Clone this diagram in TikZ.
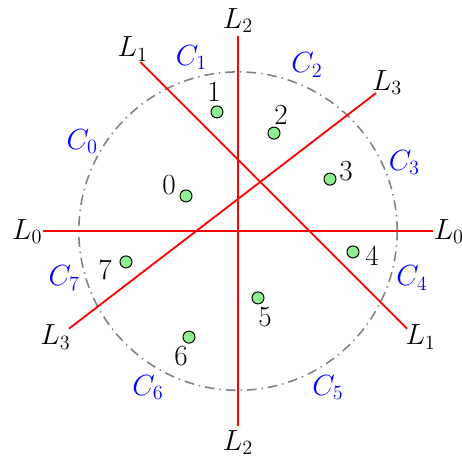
\documentclass[tikz,border=0pt]{standalone}
\usepackage{amsmath, amssymb}
\usepackage{tikz}
\usetikzlibrary{calc, positioning}
\definecolor{ptgreen}{RGB}{144,238,144}
\tikzset{>=latex}
\tikzset{
  cut/.style={draw=red, line width=1.3pt},
  ring/.style={draw=gray, line width=1.1pt,
    dash pattern=on 7pt off 3.5pt on 1pt off 3.5pt},
  pt/.style={circle, draw=black, fill=ptgreen, line width=0.7pt,
    minimum size=0.3cm, inner sep=0pt},
  cname/.style={blue},
}

\begin{document}
\begin{tikzpicture}[font=\huge]
          \useasboundingbox (-5.95,-5.6625) rectangle (5.6,5.7875);
          \coordinate (o) at (0,0.01);
          \draw[ring] (o) circle (3.98);
          % lines with both ends on the outer circle
          \foreach \n/\a/\z in {0/180/0, 1/120/330, 2/90/270, 3/210/45}{
            \coordinate (l\n a) at ($(o)+(\a:4.88)$);
            \coordinate (l\n b) at ($(o)+(\z:4.88)$);
            \draw[cut] (l\n a) -- (l\n b);
            \node (L\n a) at (\a:5.27) {$L_\n$};
            \node (L\n b) at (\z:5.27) {$L_\n$};
          }
          % cells
          \foreach \n/\a in {0/150, 1/105, 2/67.5, 3/22.5, 4/-15, 5/-60, 6/240, 7/195}
            \node[cname] (c\n) at (\a:4.5) {$C_\n$};
          % points and their numbers
          \foreach \i/\x/\y/\u/\v in {0/-1.3/0.89/-1.725/1.16,
              1/-0.525/2.99/-0.6/3.49, 2/0.9/2.46/1.075/2.91,
              3/2.3/1.31/2.7/1.51, 4/2.875/-0.51/3.35/-0.61,
              5/0.5/-1.66/0.675/-2.14, 6/-1.225/-2.64/-1.425/-3.11,
              7/-2.8/-0.76/-3.325/-0.96}{
            \node[pt] (p\i) at (\x,\y) {};
            \node (n\i) at (\u,\v) {\i};
          }
        \end{tikzpicture}
\end{document}
